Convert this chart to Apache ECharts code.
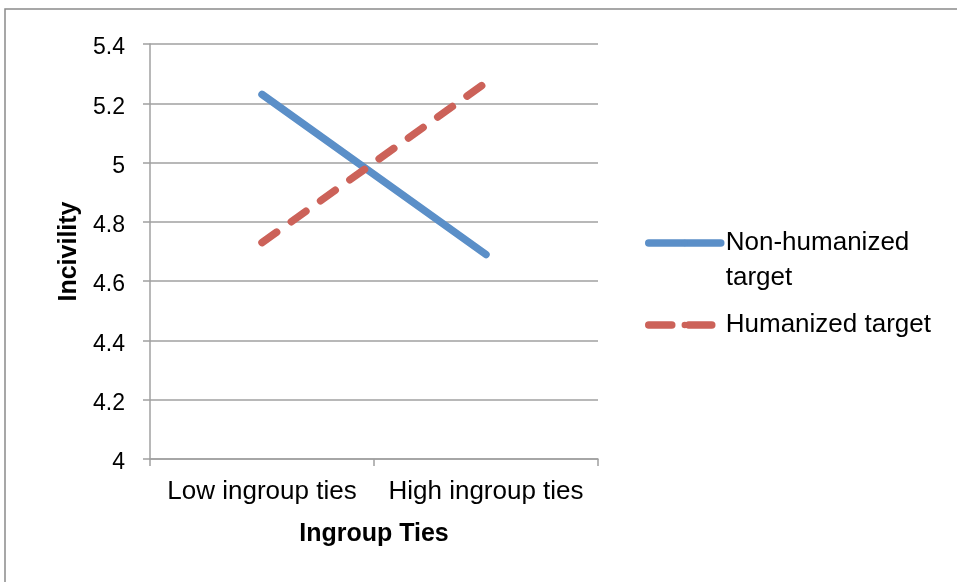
<!DOCTYPE html>
<html>
<head>
<meta charset="utf-8">
<script src="https://cdn.jsdelivr.net/npm/echarts@6/dist/echarts.min.js"></script>
<style>
  html, body { margin: 0; padding: 0; background: #fff; }
  #chart { width: 957px; height: 582px; }
</style>
</head>
<body>
<div id="chart"></div>
<script>
// Incivility by ingroup ties, for two target conditions
const categories = ['Low ingroup ties', 'High ingroup ties'];
const nonHumanized = [5.23, 4.69];
const humanized = [4.73, 5.27];
const seriesNames = ['Non-humanized target', 'Humanized target'];

const FONT = '"Liberation Sans", Arial, sans-serif';
const BLUE = '#5b8fc8';
const RED = '#cc6259';
const GRID_GRAY = '#a0a0a0';

const chart = echarts.init(document.getElementById('chart'), null, { renderer: 'canvas' });

chart.setOption({
  backgroundColor: '#ffffff',
  animation: false,
  graphic: [{
    type: 'rect',
    shape: { x: 5, y: 9, width: 1000, height: 1000 },
    style: { fill: 'none', stroke: '#8a8a8a', lineWidth: 1.5 },
    silent: true
  }],
  grid: { left: 150, right: 359, top: 44, bottom: 123 },
  legend: [{
    data: [seriesNames[0]],
    left: 645, top: 190.5,
    padding: 0,
    itemWidth: 72, itemHeight: 8,
    // leading blank line keeps the first text line level with the icon
    formatter: () => ' \nNon-humanized\ntarget',
    textStyle: { fontFamily: FONT, fontSize: 26, color: '#000', lineHeight: 35 },
    lineStyle: { width: 7.5, cap: 'round' }
  }, {
    data: [seriesNames[1]],
    left: 645, top: 307.5,
    padding: 0,
    itemWidth: 72, itemHeight: 8,
    textStyle: { fontFamily: FONT, fontSize: 26, color: '#000', lineHeight: 35 },
    lineStyle: { type: [23, 17], width: 7.5, cap: 'round' }
  }],
  xAxis: {
    type: 'category',
    data: categories,
    boundaryGap: true,
    name: 'Ingroup Ties',
    nameLocation: 'middle',
    nameGap: 63,
    nameTextStyle: { fontFamily: FONT, fontSize: 25, fontWeight: 'bold', color: '#000' },
    axisLine: { lineStyle: { color: GRID_GRAY, width: 1.5 } },
    axisTick: { show: true, length: 7, lineStyle: { color: GRID_GRAY, width: 1.5 } },
    axisLabel: { fontFamily: FONT, fontSize: 26, color: '#000', margin: 20, interval: 0, hideOverlap: false },
    splitLine: { show: false }
  },
  yAxis: {
    type: 'value',
    min: 4, max: 5.4, interval: 0.2,
    name: 'Incivility',
    nameLocation: 'middle',
    nameGap: 68,
    nameRotate: 90,
    nameTextStyle: { fontFamily: FONT, fontSize: 25, fontWeight: 'bold', color: '#000' },
    axisLine: { show: true, lineStyle: { color: GRID_GRAY, width: 1.5 } },
    axisTick: { show: true, length: 7, lineStyle: { color: GRID_GRAY, width: 1.5 } },
    axisLabel: {
      fontFamily: FONT, fontSize: 23, color: '#000', margin: 25,
      lineHeight: 30, verticalAlign: 'top', padding: [-11, 0, 0, 0],
      formatter: v => String(Math.round(v * 10) / 10)
    },
    splitLine: { show: true, lineStyle: { color: GRID_GRAY, width: 1.5 } }
  },
  series: [{
    name: seriesNames[0],
    type: 'line',
    data: nonHumanized,
    symbol: 'none',
    color: BLUE,
    lineStyle: { color: BLUE, width: 7.5, cap: 'round', join: 'round' },
    z: 3
  }, {
    name: seriesNames[1],
    type: 'line',
    data: humanized,
    symbol: 'none',
    color: RED,
    lineStyle: { color: RED, width: 7.5, type: [18, 18], cap: 'round', join: 'round' },
    z: 4
  }]
});
</script>
</body>
</html>
